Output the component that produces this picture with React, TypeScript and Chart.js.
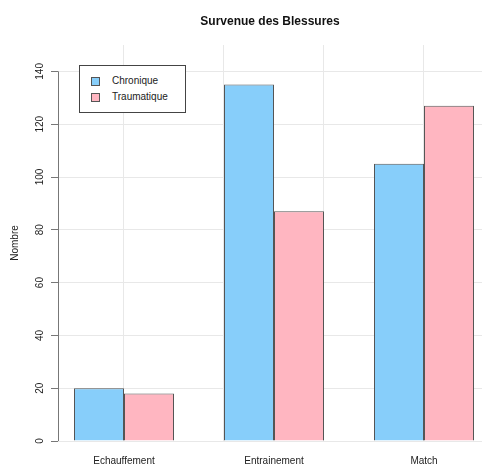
import React, { useEffect, useRef } from "react";
import { Chart, registerables } from "chart.js";

Chart.register(...registerables);

const categories = ["Echauffement", "Entrainement", "Match"];
const chronique = [20, 135, 105];
const traumatique = [18, 87, 127];
const yTicks = [0, 20, 40, 60, 80, 100, 120, 140];
const seriesNames = ["Chronique", "Traumatique"];
const colors = ["#87CEFA", "#FFB6C1"];

const axisLinePlugin = {
  id: "axisLine",
  afterDraw(chart: any) {
    const y = chart.scales.y;
    const ctx = chart.ctx;
    const x = Math.round(chart.chartArea.left) + 0.5;
    ctx.save();
    ctx.strokeStyle = "#777";
    ctx.lineWidth = 1;
    ctx.beginPath();
    ctx.moveTo(x, y.getPixelForValue(yTicks[0]));
    ctx.lineTo(x, y.getPixelForValue(yTicks[yTicks.length - 1]));
    ctx.stroke();
    ctx.restore();
  },
};

export default function App() {
  const ref = useRef<HTMLCanvasElement>(null);

  useEffect(() => {
    if (!ref.current) return;
    Chart.defaults.font.family = "'Liberation Sans', Arial, sans-serif";
    const xMin = -0.44;
    const xMax = 2.3867;
    const chart = new Chart(ref.current, {
      type: "bar",
      data: {
        datasets: [
          {
            label: seriesNames[0],
            data: categories.map((c, i) => ({ x: i, y: chronique[i] })),
            backgroundColor: colors[0],
            borderColor: "#555",
            borderWidth: 1,
          },
          {
            label: seriesNames[1],
            data: categories.map((c, i) => ({ x: i, y: traumatique[i] })),
            backgroundColor: colors[1],
            borderColor: "#555",
            borderWidth: 1,
          },
        ],
      },
      options: {
        animation: false,
        responsive: false,
        layout: { padding: 0 },
        categoryPercentage: 2 / 3,
        barPercentage: 1,
        plugins: {
          legend: { display: false },
          tooltip: { enabled: false },
          title: {
            display: true,
            text: "Survenue des Blessures",
            fullSize: false,
            color: "#111",
            font: { size: 12, weight: "bold" },
            padding: { top: 14, bottom: 16.6 },
          },
        },
        scales: {
          x: {
            type: "linear",
            min: xMin,
            max: xMax,
            offset: false,
            grid: { display: false, offset: false },
            border: { display: false },
            afterBuildTicks: (s: any) => {
              s.ticks = categories.map((c, i) => ({ value: i }));
            },
            afterFit: (s: any) => {
              s.height = 24;
            },
            ticks: {
              autoSkip: false,
              maxRotation: 0,
              minRotation: 0,
              padding: 6,
              color: "#222",
              font: { size: 10 },
              callback: (v: any) => categories[v] ?? "",
            },
          },
          xg: {
            type: "linear",
            position: "top",
            min: xMin,
            max: xMax,
            offset: false,
            grid: { display: true, offset: false, drawTicks: false, color: "#e8e8e8" },
            border: { display: false },
            ticks: { display: false },
            afterBuildTicks: (s: any) => {
              s.ticks = [0, 2 / 3, 4 / 3, 2].map((v) => ({ value: v }));
            },
            afterFit: (s: any) => {
              s.height = 0;
            },
          },
          y: {
            min: 0,
            max: 150,
            border: { display: false },
            grid: { color: "#e8e8e8", tickColor: "#777", tickLength: 7 },
            afterBuildTicks: (s: any) => {
              s.ticks = yTicks.map((v) => ({ value: v }));
            },
            afterFit: (s: any) => {
              s.width = 58;
            },
            ticks: {
              minRotation: 90,
              maxRotation: 90,
              crossAlign: "center",
              padding: 2,
              color: "#222",
              font: { size: 10 },
            },
            title: {
              display: true,
              text: "Nombre",
              color: "#222",
              font: { size: 10 },
              padding: { top: 9, bottom: 0 },
            },
          },
        },
      } as any,
      plugins: [axisLinePlugin],
    });
    return () => chart.destroy();
  }, []);

  return (
    <div style={{ position: "fixed", left: 0, top: 0, width: 482, height: 465, background: "#fff" }}>
      <canvas ref={ref} width={482} height={465} style={{ display: "block" }} />
      <div
        style={{
          position: "absolute",
          left: 79,
          top: 65,
          width: 107,
          height: 48,
          boxSizing: "border-box",
          border: "1px solid #444",
          background: "#fff",
          fontFamily: "'Liberation Sans', Arial, sans-serif",
          fontSize: 10,
          color: "#222",
        }}
      >
        {seriesNames.map((n, i) => (
          <React.Fragment key={n}>
            <div
              style={{
                position: "absolute",
                left: 11,
                top: 11 + i * 16,
                width: 9,
                height: 9,
                boxSizing: "border-box",
                border: "1px solid #555",
                background: colors[i],
              }}
            />
            <div style={{ position: "absolute", left: 32, top: 9 + i * 16, lineHeight: "12px", whiteSpace: "nowrap" }}>{n}</div>
          </React.Fragment>
        ))}
      </div>
    </div>
  );
}
